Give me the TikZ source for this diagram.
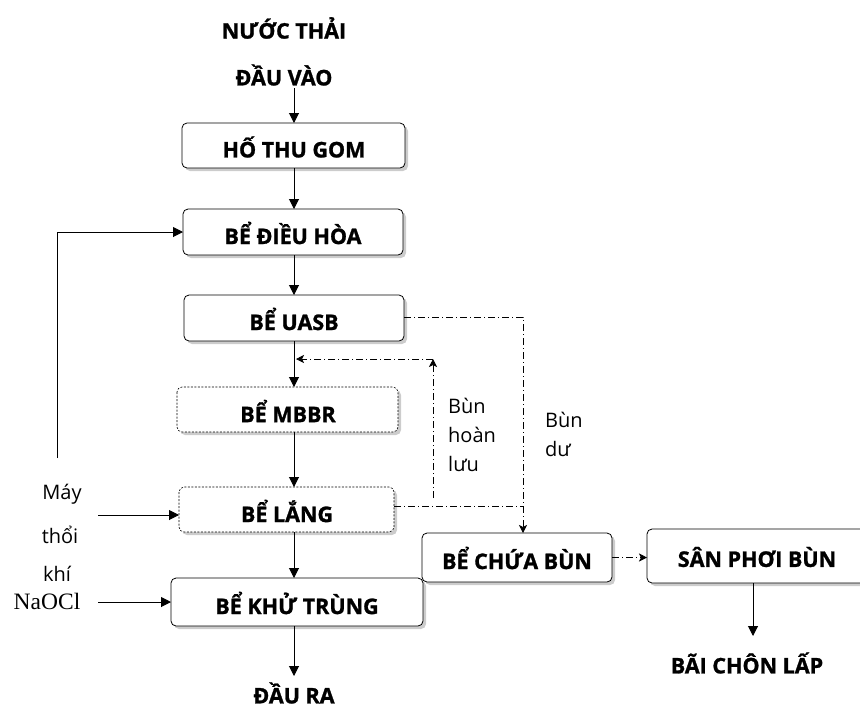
\documentclass[tikz,border=0pt]{standalone}
\usepackage{fontspec}
\setmainfont{Open Sans}[BoldFeatures={FakeBold=1.2}]
\newfontfamily\serifnaocl{Liberation Serif}
\usetikzlibrary{arrows.meta}
\tikzset{
  box/.style={draw=black, line width=0.8pt, rounded corners=5pt, fill=white},
  dbox/.style={box, dash pattern=on 2pt off 1.5pt, line width=0.6pt},
  shadow/.style={fill=gray!40, rounded corners=5pt},
  boxtext/.style={font=\bfseries\fontsize{21.5}{24}\selectfont, inner sep=0pt},
  lbl/.style={font=\fontsize{20}{29}\selectfont, inner sep=0pt},
  flow/.style={line width=1pt, -{Triangle[length=10pt,width=10pt]}},
  sludge/.style={line width=0.7pt, dash pattern=on 7pt off 3pt on 1pt off 3pt},
  sludgearrow/.style={sludge, -{Stealth[length=8pt,width=8pt,inset=2pt]}}
}
\newcommand{\mybox}[6]{% name, x1, y1, x2, y2, style
  \fill[shadow] (#2+3,#3+3) rectangle (#4+3,#5+3);
  \draw[#6] (#2,#3) rectangle (#4,#5);
  \coordinate (#1-w) at (#2,{(#3+#5)/2});
  \coordinate (#1-e) at (#4,{(#3+#5)/2});
  \coordinate (#1-n) at ({(#2+#4)/2},#3);
  \coordinate (#1-s) at ({(#2+#4)/2},#5);
}
\begin{document}
\begin{tikzpicture}[x=1pt,y=-1pt]
\useasboundingbox (0,0) rectangle (860,713);
\clip (0,0) rectangle (860,713);
% boxes
\mybox{hothu}{182}{123}{405}{168}{box}
\mybox{dieuhoa}{183}{209}{403}{255}{box}
\mybox{uasb}{184}{295}{404}{341}{box}
\mybox{mbbr}{177}{387}{398}{432}{dbox}
\mybox{lang}{179}{487}{394}{532}{dbox}
\mybox{khu}{171}{578}{423}{626}{box}
\mybox{chua}{422}{533}{612}{582}{box}
\mybox{san}{647}{529}{880}{583}{box}
% box texts
\node[boxtext] (thot) at (294,147) {HỐ THU GOM};
\node[boxtext] (tdieu) at (293,233) {BỂ ĐIỀU HÒA};
\node[boxtext] (tuasb) at (294,319) {BỂ UASB};
\node[boxtext] (tmbbr) at (288,411) {BỂ MBBR};
\node[boxtext] (tlang) at (287,511) {BỂ LẮNG};
\node[boxtext] (tkhu) at (297,603) {BỂ KHỬ TRÙNG};
\node[boxtext] (tchua) at (517,558) {BỂ CHỨA BÙN};
\node[boxtext] (tsan) at (757,557) {SÂN PHƠI BÙN};
% free texts
\node[boxtext] (nuoc) at (284,28) {NƯỚC THẢI};
\node[boxtext] (dauvao) at (284,75) {ĐẦU VÀO};
\node[boxtext] (daura) at (294,693) {ĐẦU RA};
\node[boxtext] (bai) at (747,663) {BÃI CHÔN LẤP};
\node[lbl] (may) at (62,494) {Máy};
\node[lbl] (thoi) at (60,535) {thổi};
\node[lbl] (khi) at (57,574) {khí};
\node[font=\serifnaocl\fontsize{23.5}{26}\selectfont, inner sep=0pt] (naocl) at (47,601) {NaOCl};
\node[lbl, align=left, anchor=north west] (hoan) at (448,398) {Bùn\\hoàn\\lưu};
\node[lbl, align=left, anchor=north west] (du) at (545,412) {Bùn\\dư};
% main flow
\coordinate (inA) at (294,88);
\draw[flow] (inA) -- (hothu-n -| inA);
\draw[flow] (294,168) -- (294,209);
\draw[flow] (294,255) -- (294,295);
\draw[flow] (294,341) -- (294,387);
\draw[flow] (294,432) -- (294,487);
\draw[flow] (294,532) -- (294,578);
\draw[flow] (294,626) -- (294,676);
% feedback to dieu hoa
\coordinate (fb) at (57,458);
\draw[flow] (fb) |- (dieuhoa-w);
% may thoi khi, NaOCl
\coordinate (airS) at (98,515);
\draw[flow] (airS) -- (airS -| lang-w);
\coordinate (naS) at (98,602);
\draw[flow] (naS) -- (naS -| khu-w);
% sludge lines
\coordinate (c1) at (523,317);
\coordinate (c2) at (523,506);
\coordinate (c3) at (433,506);
\coordinate (c4) at (433,359);
\coordinate (c5) at (296,359);
\draw[sludge] (uasb-e |- c1) -- (c1) -- (c2);
\draw[sludgearrow] (c2) -- (chua-n -| c2);
\draw[sludge] (lang-e |- c2) -- (c2);
\draw[sludgearrow] (433,498) -- (c4);
\draw[sludgearrow] (c4) -- (c5);
\draw[sludgearrow] (chua-e) -- (san-w |- chua-e);
\draw[flow] (753,583) -- (753,636);
\end{tikzpicture}
\end{document}
